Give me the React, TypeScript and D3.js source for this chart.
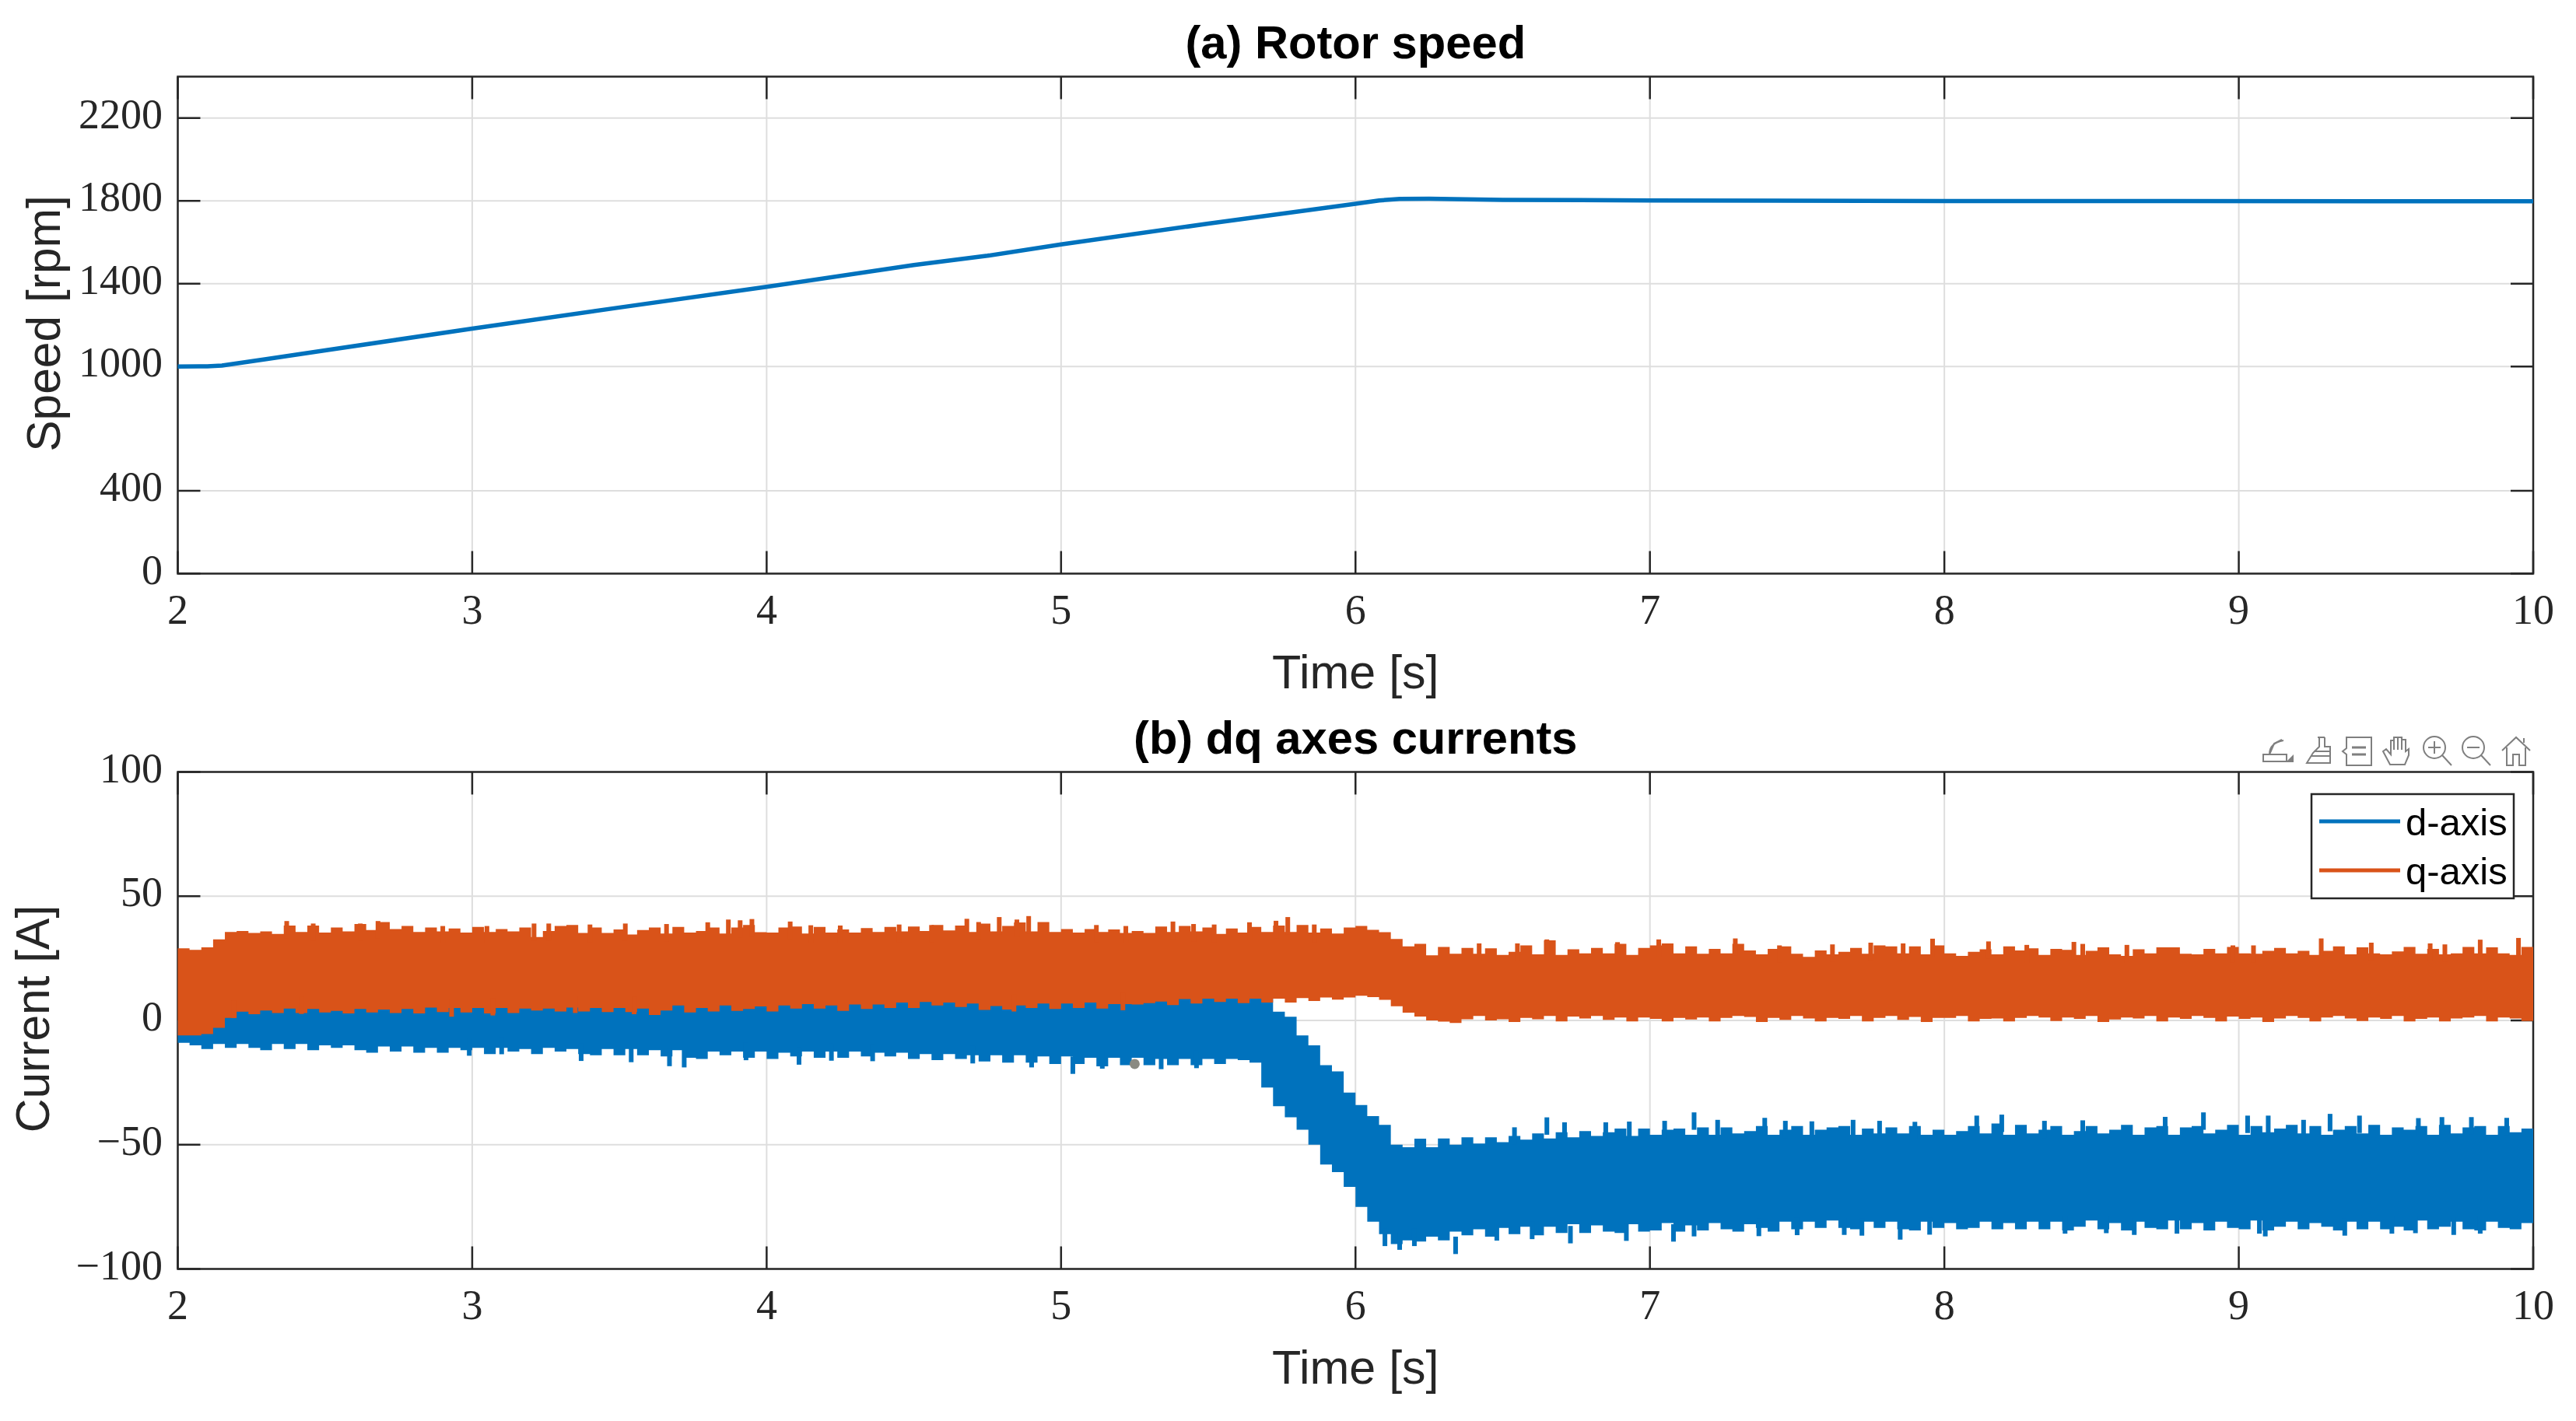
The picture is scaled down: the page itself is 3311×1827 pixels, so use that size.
import React from "react";
import * as d3 from "d3";

// ---------- data ----------
const timeTicks = [2, 3, 4, 5, 6, 7, 8, 9, 10];
const speedTicks = [0, 400, 1000, 1400, 1800, 2200];
const currentTicks = [-100, -50, 0, 50, 100];

const speedTime = [2, 2.1, 2.15, 2.2, 2.3, 2.5, 3, 3.5, 4, 4.5, 4.75, 5, 5.5, 6, 6.08, 6.15, 6.25, 6.5, 7, 8, 10];
const speedRpm = [1000, 1001, 1005, 1015, 1036, 1078, 1183, 1285, 1385, 1490, 1535, 1590, 1690, 1786, 1802, 1809, 1810, 1805, 1802, 1799, 1798];

const bandStart = 2;
const bandStep = 0.04;

const qTop = [
  29, 28.4, 29.4, 32.6, 35.6, 36, 35.2, 35.8, 34.8, 38.2,
  35.6, 38.2, 35.4, 37.4, 35.8, 38.8, 36.4, 39.6, 36.8, 38,
  35.6, 37.4, 35.8, 37, 35.4, 37.6, 35.6, 36.8, 35.8, 37.4,
  33.6, 36, 38, 38.4, 35.2, 37.4, 35.2, 36.6, 34.6, 36.4,
  37.4, 35, 37.6, 35.4, 36, 37.4, 35, 37.4, 38.4, 35.5,
  35.4, 37.4, 37.8, 35, 37.6, 35.4, 36.6, 35.4, 37.2, 35.6,
  37.6, 35.8, 37.8, 36, 38.4, 36.2, 38.2, 35.6, 39, 35.8,
  38, 39.4, 35.8, 39.6, 35.6, 36.8, 35.4, 36.8, 35.6, 36.6,
  35.2, 36, 35.2, 37.8, 35.6, 38, 35.8, 37.4, 34.8, 37,
  35.4, 37.6, 35.6, 38.2, 35.6, 38.4, 35.4, 37, 35, 37.4,
  38, 36.5, 35.5, 32.8, 29.8, 30.8, 26.2, 29.6, 26.8, 29.2,
  26.8, 29, 26.4, 27.6, 30.2, 26.6, 32.2, 26.4, 28.6, 27,
  29.2, 27, 30.8, 26.4, 29.2, 30.2, 31, 27, 29.8, 26.8,
  28.8, 27, 30.8, 28.2, 26.6, 28.8, 29.8, 26.8, 25.6, 28.2,
  26.6, 27.6, 29.2, 26.8, 30.2, 29.8, 27, 29.8, 26.6, 30.2,
  27, 26, 27.6, 28.6, 26.6, 29.8, 28.2, 29, 26.4, 28.8,
  28.4, 26.4, 28, 29.4, 26.6, 26, 28.6, 27, 29.4, 29.4,
  26.8, 26.6, 28.8, 27, 29.6, 27, 26.8, 28, 29.2, 27,
  28, 26.4, 28, 29.8, 26.6, 29.4, 27, 26.6, 27.8, 29.6,
  26.8, 28.8, 26.6, 27, 29.6, 27, 29.4, 27, 26.4, 29.6,
  28,
];

const qBottom = [
  -6, -6, -5.5, -3, 1, 3.5, 2.5, 4, 3, 4.8,
  3, 4.6, 3.2, 3.8, 2.8, 4.6, 3.2, 4.4, 3, 4.6,
  2.8, 5.2, 3.4, 5, 3.2, 5, 2.8, 5, 3, 4.8,
  4, 4.8, 3.6, 5.2, 3.6, 5, 3.4, 5, 3.4, 4.8,
  2.2, 4, 6, 3.2, 5, 3.6, 6, 3.8, 4.6, 5.6,
  3.6, 6, 4.8, 6.6, 4.8, 6, 3.8, 6.4, 4.6, 6.4,
  5, 7.2, 5, 7.4, 6, 7.2, 5.4, 6.8, 4.2, 5.8,
  4.4, 6, 5, 6.8, 4.6, 6.8, 5, 7.2, 4.8, 6.6,
  6.6, 6.4, 7, 7.6, 6.2, 8.6, 6.8, 8.8, 7.4, 8.8,
  7, 8.8, 7.2, 8.8, 7.2, 9, 7.8, 9.2, 8.4, 9.2,
  9.9, 9.4, 8.3, 5.7, 3.1, 1.6, 0, -0.5, -1, 0.5,
  1.8, 0, 0.5, -0.6, 1, 0.5, 1.8, -0.4, 1.6, 0.8,
  1.8, 0.2, 1.2, -0.4, 1.2, 0.6, -0.4, 1, 0.4, 1.2,
  -0.4, 1, 1.8, 1.4, -0.6, 1, 0.2, 1.8, 0.8, -0.4,
  1, 0.6, 1.8, -0.4, 1, 1.8, 0.2, 1.4, -0.6, 1,
  1, 1.8, -0.4, 0.6, 0.8, -0.4, 1, 1.8, 1.2, -0.2,
  1.2, 0.6, 1.8, -0.6, 0.4, 1.2, 0.8, 1.8, -0.4, 1.2,
  0.6, 1.8, 1, -0.4, 1.6, 0.6, 1.2, -0.6, 0.8, 1.8,
  1, -0.4, 1.2, 1.8, 0.8, -0.2, 1.2, 0.6, 1.8, -0.4,
  0.6, 1.2, -0.4, 0.8, 1.2, 1.8, -0.4, 1.2, 0.8, -0.2,
  1.2,
];

const dTop = [
  0, 1, 1, 2, 6, 8, 8, 8, 8, 9,
  9, 9, 9, 9, 9, 9, 9, 9, 9, 9,
  9, 9, 9, 9, 9, 9, 9, 9, 9, 9,
  9, 9, 9, 10, 10, 10, 10, 10, 10, 10,
  10, 10, 10, 10, 10, 10, 10, 10, 10, 10,
  10, 10, 10, 10, 10, 10, 10, 10, 10, 10,
  11, 11, 11, 11, 11, 11, 11, 11, 11, 11,
  11, 11, 11, 11, 11, 11, 11, 11, 11, 11,
  11, 11, 11, 11, 11, 11, 11, 11, 11, 11,
  11, 11, 11, 3.5, 1.5, -6, -10, -18, -20.5, -29,
  -34, -38.5, -42, -50, -51, -47.6, -51, -47.5, -50, -47,
  -49.5, -47, -49, -46.5, -48, -45.5, -47.5, -45, -47, -44.5,
  -46.5, -45, -43.5, -46.5, -43.5, -46, -44, -43.5, -46, -43,
  -46, -43, -45.5, -44.5, -42.5, -46, -44, -42.5, -46, -44,
  -43, -42.5, -46, -43.5, -45.5, -43, -45.5, -42.5, -46, -44,
  -46, -44.5, -42.5, -45.5, -41.5, -46, -42, -45.5, -44, -42.5,
  -46, -44.5, -42.5, -45.5, -44, -42, -46, -43, -42.5, -46,
  -43, -42.5, -45.5, -44, -42, -46, -42.5, -45, -43.5, -42,
  -45.5, -42.5, -46, -44, -42.5, -45.5, -42, -46, -43, -44,
  -42.5, -46, -42, -45.5, -43, -42.5, -46, -42.5, -45, -43.5,
  -43,
];

const dBottom = [
  -9, -10, -11.5, -9.5, -11, -9.5, -11, -12, -9.5, -11.5,
  -9.5, -12, -10, -11, -10, -12, -13, -10.5, -12.5, -10.5,
  -13, -11, -13, -11, -12, -11, -13.5, -11, -12.5, -11.5,
  -13.5, -11, -12.5, -11.5, -13.5, -14, -11.5, -14, -11.5, -14,
  -12, -14.5, -12, -15, -15.5, -12.5, -14, -12.5, -15, -12.5,
  -15.5, -13, -14.5, -12.5, -15, -12.5, -15, -12.5, -14.5, -13,
  -14.5, -13, -15.5, -13.5, -16, -13.5, -15.5, -14, -16.5, -14,
  -17, -14, -17, -14.5, -17.5, -14.5, -17.5, -15, -18.5, -15,
  -18, -15, -18, -15.5, -18, -15.5, -18, -15.5, -17.5, -15.5,
  -16, -17, -27, -34.5, -39, -44, -50, -58, -61, -67,
  -75, -81, -86, -90, -88.5, -89, -87, -88.5, -85, -86.5,
  -84, -87, -83.5, -86, -83, -86.5, -83, -85.5, -82, -85.5,
  -82.5, -85, -85.5, -82, -85, -84.5, -81.5, -85, -82.5, -84.5,
  -81.5, -84, -85, -82, -83.5, -85, -81, -84, -81, -83.5,
  -80.5, -83.5, -84, -81, -83.5, -81, -84, -84.5, -81, -83.5,
  -81.5, -84, -83.5, -81, -84, -81.5, -84, -81, -84, -81,
  -84.5, -83, -80.5, -84, -81.5, -84.5, -81, -83.5, -84, -80.5,
  -84, -81.5, -84.5, -81, -83.5, -84, -80.5, -84.5, -83, -81,
  -84, -81.5, -83, -84.5, -81, -84, -81, -84, -83, -84.5,
  -80.5, -84, -83, -81, -84, -84.5, -81, -83.5, -84, -81.5,
  -83,
];

// thin peaks on top of the envelopes: [time, current]
const qTopPeaks = [
  [2.37, 40], [2.46, 39], [2.62, 39], [2.68, 40], [2.9, 38], [3.05, 38], [3.21, 39], [3.26, 39], [3.4, 38.6], [3.52, 39], [3.66, 38.8], [3.8, 39.5], [3.87, 40.6], [3.91, 40.3], [3.95, 40.8],
  [4.08, 39.8], [4.15, 38.3], [4.25, 38.2], [4.45, 38.6], [4.56, 38.4], [4.68, 40.9], [4.72, 39.6], [4.79, 41.6], [4.85, 40.6], [4.89, 42],
  [5.12, 38.4], [5.22, 38], [5.38, 39.8], [5.45, 38.8], [5.52, 38.6], [5.64, 39.5], [5.73, 40.1], [5.77, 41.6], [5.86, 38.6],
  [6.65, 32.6], [6.42, 31], [6.55, 31], [6.89, 31.5], [7.03, 32.6], [7.29, 33], [7.44, 30.2], [7.62, 30.6], [7.75, 31.3], [7.86, 31], [7.96, 32.9],
  [8.15, 31.8], [8.28, 30.4], [8.44, 31.6], [8.47, 30.8], [8.62, 30.4], [8.98, 30.2], [9.05, 30.2], [9.28, 33], [9.45, 31.3], [9.65, 31], [9.7, 30.6], [9.82, 32.5], [9.95, 33.2],
];
const qBottomPeaks = [[2.19, 1], [2.42, 2.6], [2.93, 1.5], [3.07, 2], [3.35, 3], [3.55, 2.5], [4.84, 3.6], [5.21, 4.1]];
const dTopPeaks = [
  [6.54, -43], [6.65, -39], [6.71, -41], [6.85, -41], [6.93, -40.7], [7.05, -40.4], [7.15, -37], [7.23, -40], [7.39, -39.2], [7.46, -40.4], [7.55, -40.6], [7.69, -40], [7.78, -40.4], [7.9, -40.8],
  [8.11, -38.3], [8.195, -37.9], [8.34, -40.4], [8.47, -40.2], [8.75, -38.8], [8.88, -37], [9.03, -38.3], [9.1, -38.3], [9.22, -40], [9.31, -37.6], [9.41, -38.3], [9.61, -39.3], [9.69, -38.9], [9.79, -38.9], [9.91, -39.2],
];
const dBottomPeaks = [
  [2.99, -14.2], [3.1, -13.6], [3.37, -16.3], [3.54, -16.8], [3.67, -18.4], [3.72, -18.9], [3.93, -16],
  [4.11, -17.8], [4.22, -16.2], [4.36, -16.4], [4.7, -17.3], [4.9, -18.9], [5.04, -21.5], [5.14, -19.4], [5.34, -19.6], [5.46, -19.2],
  [6.1, -90.8], [6.15, -92.3], [6.2, -90.8], [6.34, -94], [6.48, -88.6], [6.6, -88], [6.73, -89.7], [6.92, -88.7], [7.08, -89], [7.15, -86.9], [7.37, -86.8], [7.5, -86.4], [7.66, -86.3], [7.72, -86.6], [7.85, -88.2], [7.95, -86.2],
  [8.41, -85.8], [8.55, -85.6], [8.645, -86.3], [8.79, -85.8], [9.07, -85.8], [9.09, -86.9], [9.36, -86.6], [9.52, -85.8], [9.6, -85.6], [9.73, -86.3], [9.82, -85.8],
];

const markerTime = [5.25];
const markerCurrent = [-17.5];

const legendLabels = ["d-axis", "q-axis"];

// ---------- styling ----------
const BLUE = "#0072BD";
const ORANGE = "#D95319";
const AXIS = "#262626";
const GRID = "#dedede";
const SERIF = "'Liberation Serif', serif";
const SANS = "'Liberation Sans', Arial, sans-serif";

const W = 3311;
const H = 1827;
const left = 228.5;
const right = 3256;
const x = d3.scaleLinear().domain([2, 10]).range([left, right]);
const y1 = d3.scaleLinear().domain([0, 2400]).range([737.5, 98.5]);
const y2 = d3.scaleLinear().domain([-100, 100]).range([1631.5, 992.5]);

const bandTime = (i: number) => bandStart + i * bandStep;

function band(top: number[], bottom: number[]) {
  const rows = top.map((t, i) => ({ t: bandTime(i), hi: t, lo: bottom[i] }));
  return d3
    .area<{ t: number; hi: number; lo: number }>()
    .x((d) => x(d.t))
    .y0((d) => y2(d.lo))
    .y1((d) => y2(d.hi))
    .curve(d3.curveStepAfter)(rows) as string;
}

function Peaks({ data, color, dir }: { data: number[][]; color: string; dir: number }) {
  return (
    <g fill={color}>
      {data.map(([t, v], i) => {
        const a = y2(v);
        const b = y2(v + dir * 7);
        return <rect key={i} x={x(t) - 3} width={6} y={Math.min(a, b)} height={Math.abs(a - b)} />;
      })}
    </g>
  );
}

function Axes({
  yScale,
  yTicks,
  title,
  yLabel,
  yLabelY,
  yLabelX,
}: {
  yScale: d3.ScaleLinear<number, number>;
  yTicks: number[];
  title: string;
  yLabel: string;
  yLabelY: number;
  yLabelX: number;
}) {
  const [bottom, top] = yScale.range();
  const tick = 29;
  return (
    <g>
      {timeTicks.map((t) => (
        <line key={t} x1={x(t)} x2={x(t)} y1={top} y2={bottom} stroke={GRID} strokeWidth={2} />
      ))}
      {yTicks.map((v) => (
        <line key={v} x1={left} x2={right} y1={yScale(v)} y2={yScale(v)} stroke={GRID} strokeWidth={2} />
      ))}
      <g stroke={AXIS} strokeWidth={2.5}>
        {timeTicks.map((t) => (
          <g key={t}>
            <line x1={x(t)} x2={x(t)} y1={bottom} y2={bottom - tick} />
            <line x1={x(t)} x2={x(t)} y1={top} y2={top + tick} />
          </g>
        ))}
        {yTicks.map((v) => (
          <g key={v}>
            <line x1={left} x2={left + tick} y1={yScale(v)} y2={yScale(v)} />
            <line x1={right} x2={right - tick} y1={yScale(v)} y2={yScale(v)} />
          </g>
        ))}
      </g>
      <rect x={left} y={top} width={right - left} height={bottom - top} fill="none" stroke={AXIS} strokeWidth={2.5} />
      <g fontFamily={SERIF} fontSize={54} fill={AXIS}>
        {timeTicks.map((t) => (
          <text key={t} x={x(t)} y={bottom + 64} textAnchor="middle">
            {t}
          </text>
        ))}
        {yTicks.map((v) => (
          <text key={v} x={209} y={yScale(v) + 13} textAnchor="end">
            {v < 0 ? `\u2212${-v}` : v}
          </text>
        ))}
      </g>
      <text x={(left + right) / 2} y={bottom + 147.5} textAnchor="middle" fontFamily={SANS} fontSize={61} fill={AXIS}>
        Time [s]
      </text>
      <text
        transform={`translate(${yLabelX},${yLabelY}) rotate(-90)`}
        textAnchor="middle"
        fontFamily={SANS}
        fontSize={60.5}
        fill={AXIS}
      >
        {yLabel}
      </text>
      <text x={(left + right) / 2} y={top - 24} textAnchor="middle" fontFamily={SANS} fontWeight="bold" fontSize={59.7} fill="#000">
        {title}
      </text>
    </g>
  );
}

function Toolbar() {
  const c = "#7f7f7f";
  return (
    <g fill="none" stroke={c} strokeWidth={2}>
      {/* export */}
      <g transform="translate(2908,948)">
        <path d="M1 22h30v9H1z" />
        <path d="M9 22c0-10 6-16 18-18M9 22l6-14 10-5" />
        <path d="M40 32l-10 0 10-10z" fill={c} stroke="none" />
      </g>
      {/* brush */}
      <g transform="translate(2962,946)">
        <path d="M17 2h9M19 2v12l-8 8-8 13h30V14l-7-0V2" />
        <path d="M12 20h21M9 26h24" />
      </g>
      {/* data tip */}
      <g transform="translate(3010,946)">
        <path d="M6 2h32v36H6v-14l-5-4 5-4z" />
        <path d="M13 15h18M13 24h18" strokeWidth={3} />
      </g>
      {/* pan */}
      <g transform="translate(3062,946)">
        <path d="M10 37L1 20l4-3 6 7V6h4v12V2h5v16V2h5v16V5h5v15l4-3v8l-5 12z" />
      </g>
      {/* zoom in */}
      <g transform="translate(3113,946)">
        <circle cx={16} cy={15} r={14} />
        <path d="M26 25l12 13M8 15h16M16 7v16" />
      </g>
      {/* zoom out */}
      <g transform="translate(3163,946)">
        <circle cx={16} cy={15} r={14} />
        <path d="M26 25l12 13M8 15h16" />
      </g>
      {/* home */}
      <g transform="translate(3215,946)">
        <path d="M1 19L19 2l18 17M7 15v23h8V24h8v14h8V15M29 3v6" />
      </g>
    </g>
  );
}

export default function App() {
  const speedPath = d3
    .line<number>()
    .x((_, i) => x(speedTime[i]))
    .y((v) => y1(v))(speedRpm) as string;

  const legendBox = { x: 2971, y: 1021, w: 260, h: 134 };
  const legendRows = [1056, 1119];
  const legendColors = [BLUE, ORANGE];

  return (
    <svg
      width={W}
      height={H}
      viewBox={`0 0 ${W} ${H}`}
      style={{ position: "absolute", left: 0, top: 0, background: "#fff" }}
    >
      <Axes yScale={y1} yTicks={speedTicks} title="(a) Rotor speed" yLabel="Speed [rpm]" yLabelX={77} yLabelY={416} />
      <path d={speedPath} fill="none" stroke={BLUE} strokeWidth={5.5} />

      <Axes yScale={y2} yTicks={currentTicks} title="(b) dq axes currents" yLabel="Current [A]" yLabelX={63} yLabelY={1310} />
      <path d={band(dTop, dBottom)} fill={BLUE} />
      <Peaks data={dTopPeaks} color={BLUE} dir={-1} />
      <Peaks data={dBottomPeaks} color={BLUE} dir={1} />
      <path d={band(qTop, qBottom)} fill={ORANGE} />
      <Peaks data={qTopPeaks} color={ORANGE} dir={-1} />
      <Peaks data={qBottomPeaks} color={ORANGE} dir={1} />
      <circle cx={x(markerTime[0])} cy={y2(markerCurrent[0])} r={6.5} fill="#8a8a82" />

      <rect {...{ x: legendBox.x, y: legendBox.y, width: legendBox.w, height: legendBox.h }} fill="#fff" stroke={AXIS} strokeWidth={2.5} />
      {legendLabels.map((label, i) => (
        <g key={label}>
          <line x1={2981} x2={3085} y1={legendRows[i]} y2={legendRows[i]} stroke={legendColors[i]} strokeWidth={5} />
          <text x={3092} y={legendRows[i] + 18} fontFamily={SANS} fontSize={49} fill="#000">
            {label}
          </text>
        </g>
      ))}
      <Toolbar />
    </svg>
  );
}
